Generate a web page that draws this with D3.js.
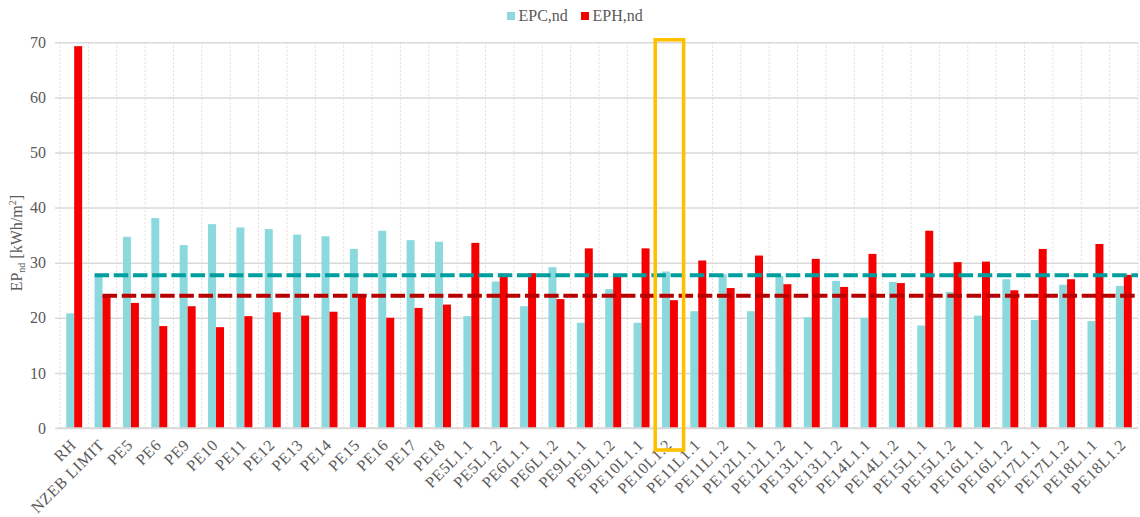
<!DOCTYPE html>
<html>
<head>
<meta charset="utf-8">
<script src="https://cdn.jsdelivr.net/npm/d3@7"></script>
<style>
  html, body { margin: 0; padding: 0; background: #fff; }
  svg { display: block; }
  text { font-family: "Liberation Serif", "Times New Roman", serif; fill: #595959; }
</style>
</head>
<body>
<svg id="chart" width="1140" height="517"></svg>
<script>
// Building variants
const categories = [
  "RH", "NZEB LIMIT", "PE5", "PE6", "PE9", "PE10", "PE11", "PE12", "PE13", "PE14",
  "PE15", "PE16", "PE17", "PE18",
  "PE5L1.1", "PE5L1.2", "PE6L1.1", "PE6L1.2", "PE9L1.1", "PE9L1.2",
  "PE10L1.1", "PE10L1.2", "PE11L1.1", "PE11L1.2", "PE12L1.1", "PE12L1.2",
  "PE13L1.1", "PE13L1.2", "PE14L1.1", "PE14L1.2", "PE15L1.1", "PE15L1.2",
  "PE16L1.1", "PE16L1.2", "PE17L1.1", "PE17L1.2", "PE18L1.1", "PE18L1.2"
];

// Cooling need EPC,nd [kWh/m2]
const epcValues = [
  20.8, 27.8, 34.7, 38.1, 33.2, 37.0, 36.4, 36.1, 35.1, 34.8,
  32.5, 35.8, 34.1, 33.8,
  20.3, 26.6, 22.1, 29.2, 19.1, 25.2,
  19.1, 28.4, 21.2, 27.9, 21.2, 27.6,
  20.1, 26.7, 20.0, 26.5, 18.6, 24.7,
  20.4, 27.0, 19.6, 26.0, 19.4, 25.8
];

// Heating need EPH,nd [kWh/m2]
const ephValues = [
  69.3, 24.1, 22.7, 18.5, 22.1, 18.3, 20.3, 21.0, 20.4, 21.1,
  24.2, 20.0, 21.8, 22.4,
  33.6, 28.0, 28.1, 23.4, 32.6, 27.5,
  32.6, 23.2, 30.4, 25.4, 31.3, 26.1,
  30.7, 25.6, 31.6, 26.3, 35.8, 30.1,
  30.2, 25.0, 32.5, 27.0, 33.4, 27.8
];

// NZEB limit reference levels (EPC, EPH)
const limitValues = [27.7, 24.0];

const seriesNames = ["EPC,nd", "EPH,nd"];
const yTicks = [0, 10, 20, 30, 40, 50, 60, 70];
const highlighted = "PE10L1.2";

const barColors = ["#8CD9DD", "#F50000"];
const lineColors = ["#009E9E", "#B80000"];

const svg = d3.select("#chart");
const plotLeft = 60, plotRight = 1138, plotTop = 42.3, plotBottom = 428;

const x = d3.scaleBand()
  .domain(categories)
  .range([plotLeft, plotRight])
  .paddingInner(0.437)
  .paddingOuter(0.2185);

const xSub = d3.scaleBand()
  .domain(seriesNames)
  .range([0, x.bandwidth()]);

const y = d3.scaleLinear().domain([0, 70]).range([plotBottom, plotTop]);

const step = x.step();
const slotStart = c => x(c) - step * 0.2185;

// vertical dotted separators between categories
const bounds = d3.range(categories.length + 1).map(i => plotLeft + i * step);
svg.append("g").selectAll("line").data(bounds).join("line")
  .attr("x1", d => d).attr("x2", d => d)
  .attr("y1", y(70)).attr("y2", y(0))
  .attr("stroke", "#dcdcdc").attr("stroke-width", 1)
  .attr("stroke-dasharray", "2,2");

// horizontal gridlines
const yAxis = d3.axisLeft(y).tickValues(yTicks).tickSize(-(plotRight - plotLeft + 5)).tickPadding(10);
const gy = svg.append("g").attr("transform", `translate(${plotLeft - 5},0)`).call(yAxis);
gy.select(".domain").remove();
gy.selectAll(".tick line").attr("stroke", "#d9d9d9").attr("stroke-width", 1.5);
gy.selectAll(".tick text")
  .attr("x", -9)
  .style("font-family", "'Liberation Serif', serif")
  .style("font-size", "16px").attr("fill", "#595959");

// bars
const rows = categories.map((c, i) => ({ c, vals: [epcValues[i], ephValues[i]] }));
const groups = svg.append("g").selectAll("g").data(rows).join("g")
  .attr("transform", d => `translate(${x(d.c)},0)`);
groups.selectAll("rect")
  .data(d => d.vals.map((v, k) => ({ v, k })))
  .join("rect")
  .attr("x", d => xSub(seriesNames[d.k]))
  .attr("width", xSub.bandwidth())
  .attr("y", d => y(d.v))
  .attr("height", d => y(0) - y(d.v))
  .attr("fill", d => barColors[d.k]);

// x baseline
svg.append("line")
  .attr("x1", plotLeft - 3).attr("x2", plotRight)
  .attr("y1", y(0)).attr("y2", y(0))
  .attr("stroke", "#d9d9d9").attr("stroke-width", 1.5);

// NZEB limit dashed lines, starting at the NZEB LIMIT bars
limitValues.forEach((v, k) => {
  svg.append("line")
    .attr("x1", x("NZEB LIMIT") + xSub(seriesNames[k]))
    .attr("x2", plotRight)
    .attr("y1", y(v)).attr("y2", y(v))
    .attr("stroke", lineColors[k])
    .attr("stroke-width", 4)
    .attr("stroke-dasharray", "14.5,4.7");
});

// category labels, rotated
const xl = svg.append("g");
categories.forEach(c => {
  const cx = x(c) + x.bandwidth() / 2 + 3;
  xl.append("text")
    .attr("transform", `translate(${cx},${y(0) + 18}) rotate(-45)`)
    .attr("text-anchor", "end")
    .style("font-size", "16px")
    .style("letter-spacing", "0.6px")
    .text(c);
});

// highlighted variant frame
svg.append("rect")
  .attr("x", slotStart(highlighted) - 0.5)
  .attr("width", step)
  .attr("y", y(70) - 2.5)
  .attr("height", (y(0) + 22) - (y(70) - 2.5))
  .attr("fill", "none")
  .attr("stroke", "#FFC000")
  .attr("stroke-width", 3.6);

// y axis title: EP_nd [kWh/m^2]
const yt = svg.append("text")
  .attr("transform", `translate(22,${(plotTop + plotBottom) / 2 + 8}) rotate(-90)`)
  .attr("text-anchor", "middle")
  .style("font-size", "16px");
yt.append("tspan").text("EP");
yt.append("tspan").attr("dy", 3).style("font-size", "10px").text("nd");
yt.append("tspan").attr("dy", -3).text(" [kWh/m");
yt.append("tspan").attr("dy", -6).style("font-size", "10px").text("2");
yt.append("tspan").attr("dy", 6).text("]");

// legend
const legend = svg.append("g");
const legendX = [507, 581];
seriesNames.forEach((name, k) => {
  legend.append("rect")
    .attr("x", legendX[k]).attr("y", 12)
    .attr("width", 8).attr("height", 8)
    .attr("fill", barColors[k]);
  legend.append("text")
    .attr("x", legendX[k] + 11.5).attr("y", 21)
    .style("font-size", "16px")
    .text(name);
});
</script>
</body>
</html>
